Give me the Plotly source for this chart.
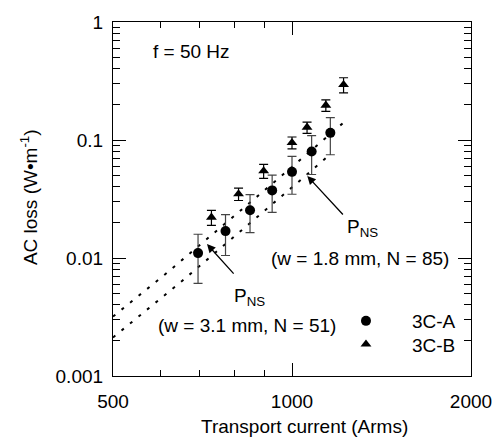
import math
import plotly.graph_objects as go

# ---- data ----
a_current = [695, 773, 850, 926, 1000, 1079, 1160]
a_loss = [0.0110, 0.0169, 0.0254, 0.0374, 0.0537, 0.080, 0.115]
a_err = [0.0049, 0.0064, 0.0090, 0.013, 0.019, 0.029, 0.040]

b_current = [732, 813, 896, 1000, 1060, 1140, 1221]
b_loss = [0.0221, 0.0349, 0.0547, 0.095, 0.128, 0.197, 0.294]
b_err = [0.0032, 0.0042, 0.0074, 0.011, 0.014, 0.022, 0.043]

# Norris-strip predictions (dotted)
ns51_current = [500, 612, 968, 1102, 1227]
ns51_loss = [0.00319, 0.00728, 0.0514, 0.0910, 0.1436]
ns85_current = [500, 654, 1034, 1163]
ns85_loss = [0.00212, 0.00642, 0.0458, 0.0766]

x_tickvals = [500, 1000, 2000]
x_ticktext = ["500", "1000", "2000"]
x_minor = [600, 700, 800, 900]
y_tickvals = [0.001, 0.01, 0.1, 1]
y_ticktext = ["0.001", "0.01", "0.1", "1"]
y_minor = [m * d for d in (0.001, 0.01, 0.1) for m in range(2, 10)]

FONT = "Liberation Sans, Arial, sans-serif"
FS = 19

fig = go.Figure()
fig.add_trace(go.Scatter(x=ns51_current, y=ns51_loss, mode="lines", showlegend=False,
                         line=dict(color="black", width=2, dash="3px,8px")))
fig.add_trace(go.Scatter(x=ns85_current, y=ns85_loss, mode="lines", showlegend=False,
                         line=dict(color="black", width=2, dash="3px,8px")))
fig.add_trace(go.Scatter(x=a_current, y=a_loss, mode="markers", name="3C-A",
                         legend="legend",
                         marker=dict(symbol="circle", size=10, color="black"),
                         error_y=dict(type="data", array=a_err, visible=True,
                                      color="#444", thickness=1.2, width=4.5)))
fig.add_trace(go.Scatter(x=b_current, y=b_loss, mode="markers", name="3C-B",
                         legend="legend2",
                         marker=dict(symbol="triangle-up", size=9.5, color="black"),
                         error_y=dict(type="data", array=b_err, visible=True,
                                      color="black", thickness=1.2, width=4.5)))

axis_common = dict(type="log", showgrid=False, zeroline=False, showline=True,
                   linecolor="black", linewidth=1.2, mirror="allticks",
                   ticks="inside", tickcolor="black", tickwidth=1.2,
                   ticklabeloverflow="allow",
                   tickfont=dict(family=FONT, size=FS, color="black"))

fig.update_xaxes(**axis_common, range=[math.log10(500), math.log10(2000)],
                 tickvals=x_tickvals, ticktext=x_ticktext, ticklen=13,
                 ticklabelstandoff=8,
                 minor=dict(tickvals=x_minor, ticks="inside", ticklen=6,
                            tickcolor="black", tickwidth=1.2))
fig.update_yaxes(**axis_common, range=[-3, 0],
                 tickvals=y_tickvals, ticktext=y_ticktext, ticklen=13,
                 ticklabelstandoff=5,
                 minor=dict(tickvals=y_minor, ticks="inside", ticklen=7,
                            tickcolor="black", tickwidth=1.2))

def ann(text, x, y, xanchor="center", yanchor="middle", **kw):
    fig.add_annotation(text=text, x=x, y=y, xref="paper", yref="paper",
                       xanchor=xanchor, yanchor=yanchor, showarrow=False,
                       font=dict(family=FONT, size=FS, color="black"), **kw)

ann("Transport current (Arms)", 0.534, -0.144)
ann("AC loss (W\u2022m<sup>-1</sup>)", -0.235, 0.505, textangle=-90)
ann("f = 50 Hz", 0.1066, 0.9165, xanchor="left")
ann("P<sub>NS</sub>", 0.648, 0.419, xanchor="left")
ann("(w = 1.8 mm, N = 85)", 0.689, 0.3333)
ann("P<sub>NS</sub>", 0.3314, 0.223, xanchor="left")
ann("(w = 3.1 mm, N = 51)", 0.3738, 0.1433)

# arrows pointing at the two prediction curves (log axes -> log10 coords)
for tip_i, tip_p, dx, dy in [(1061, 0.0495, 37, 40), (719.5, 0.01312, 28, 31)]:
    fig.add_annotation(x=math.log10(tip_i), y=math.log10(tip_p), xref="x", yref="y",
                       ax=dx, ay=dy, text="", showarrow=True, arrowhead=2,
                       arrowsize=1.3, arrowwidth=1.3, arrowcolor="black")

leg_common = dict(xanchor="right", yanchor="top", bgcolor="rgba(0,0,0,0)",
                  itemwidth=82, font=dict(family=FONT, size=FS, color="black"))
fig.update_layout(
    width=504, height=441,
    margin=dict(l=113, r=28, t=13, b=65),
    paper_bgcolor="white", plot_bgcolor="white",
    font=dict(family=FONT, size=FS, color="black"),
    legend=dict(x=0.972, y=0.209, **leg_common),
    legend2=dict(x=0.972, y=0.143, **leg_common),
)

fig.write_html("out.html", config={"displayModeBar": False},
               post_script="document.body.style.margin='0';")
